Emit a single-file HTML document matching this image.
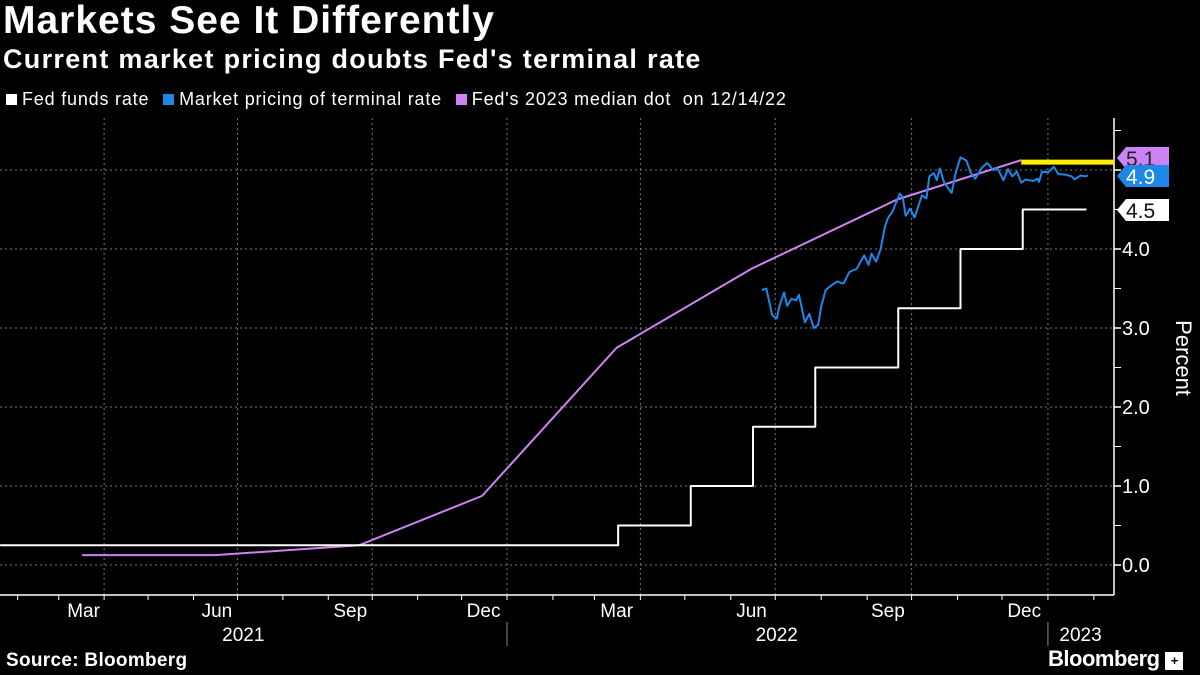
<!DOCTYPE html>
<html><head><meta charset="utf-8">
<style>
body{margin:0;background:#000;width:1200px;height:675px;overflow:hidden;font-family:"Liberation Sans",sans-serif;color:#fff;position:relative}
.t{position:absolute;white-space:nowrap}
</style></head><body>
<div class="t" style="left:3px;top:-1px;font-size:39px;font-weight:bold;letter-spacing:1px">Markets See It Differently</div>
<div class="t" style="left:3px;top:44px;font-size:27px;font-weight:bold;letter-spacing:1.3px">Current market pricing doubts Fed's terminal rate</div>
<div class="t" style="left:6px;top:89px;font-size:18px;letter-spacing:0.8px">
<span><span style="display:inline-block;width:11px;height:11px;background:#fff;margin-right:5px"></span>Fed funds rate</span>
<span style="margin-left:8px"><span style="display:inline-block;width:11px;height:11px;background:#1f87e8;margin-right:5px"></span>Market pricing of terminal rate</span>
<span style="margin-left:8px"><span style="display:inline-block;width:11px;height:11px;background:#cd83f5;margin-right:5px"></span>Fed's 2023 median dot &nbsp;on 12/14/22</span>
</div>
<svg id="chart" width="1200" height="675" style="position:absolute;left:0;top:0" font-family="Liberation Sans, sans-serif"></svg>
<div class="t" style="left:6px;top:650px;font-size:19px;font-weight:bold;letter-spacing:0.3px">Source: Bloomberg</div>
<div class="t" style="left:1048px;top:646px;font-size:22px;font-weight:bold;letter-spacing:-0.5px">Bloomberg <span style="display:inline-block;width:18px;height:18px;background:#fff;color:#000;font-size:13px;text-align:center;line-height:18px;vertical-align:1px">+</span></div>
<script>
const fedFundsDates=["2021-01-20","2022-03-17","2022-05-05","2022-06-16","2022-07-28","2022-09-22","2022-11-03","2022-12-15","2023-01-27"];
const fedFundsValues=[0.25,0.5,1.0,1.75,2.5,3.25,4.0,4.5,4.5];
const dotDates=["2021-03-17","2021-06-16","2021-09-22","2021-12-15","2022-03-16","2022-06-15","2022-09-21","2022-12-14"];
const dotValues=[0.125,0.125,0.25,0.875,2.75,3.75,4.625,5.125];
const marketDates=["2022-06-22","2022-06-25","2022-06-29","2022-07-02","2022-07-04","2022-07-07","2022-07-09","2022-07-12","2022-07-15","2022-07-17","2022-07-21","2022-07-24","2022-07-27","2022-07-30","2022-08-01","2022-08-04","2022-08-08","2022-08-12","2022-08-16","2022-08-20","2022-08-25","2022-08-30","2022-09-02","2022-09-04","2022-09-07","2022-09-10","2022-09-13","2022-09-15","2022-09-18","2022-09-23","2022-09-25","2022-09-27","2022-09-30","2022-10-03","2022-10-08","2022-10-11","2022-10-13","2022-10-16","2022-10-18","2022-10-20","2022-10-23","2022-10-28","2022-10-31","2022-11-03","2022-11-07","2022-11-10","2022-11-13","2022-11-17","2022-11-21","2022-11-25","2022-11-28","2022-12-02","2022-12-05","2022-12-08","2022-12-11","2022-12-14","2022-12-17","2022-12-22","2022-12-25","2022-12-26","2022-12-28","2023-01-01","2023-01-05","2023-01-08","2023-01-13","2023-01-17","2023-01-19","2023-01-23","2023-01-26","2023-01-28"];
const marketValues=[3.48,3.50,3.16,3.12,3.29,3.45,3.28,3.37,3.35,3.42,3.07,3.18,3.00,3.04,3.27,3.48,3.54,3.59,3.56,3.71,3.75,3.92,3.80,3.94,3.84,3.99,4.28,4.39,4.47,4.70,4.66,4.42,4.51,4.40,4.68,4.64,4.92,4.96,4.87,5.02,4.84,4.71,4.98,5.16,5.12,4.96,4.89,5.02,5.09,5.00,5.02,4.87,5.01,4.92,4.98,4.84,4.88,4.86,4.89,4.85,4.98,4.97,5.04,4.95,4.94,4.92,4.88,4.93,4.92,4.93];
const medianDotValue=5.1, lastMarket=4.9, lastFed=4.5;
const yTicks=[0,1,2,3,4,5];
const yTickLabels=["0.0","1.0","2.0","3.0","4.0",""];
const monthLabels=["Mar","Jun","Sep","Dec","Mar","Jun","Sep","Dec"];
const monthLabelDates=["2021-03-18","2021-06-17","2021-09-16","2021-12-16","2022-03-16","2022-06-15","2022-09-15","2022-12-16"];
const yearLabels=["2021","2022","2023"];
const yearLabelDates=["2021-07-05","2022-07-02","2023-01-23"];

const svg=document.getElementById('chart');
const NS='http://www.w3.org/2000/svg';
const base=Date.UTC(2022,0,1);
function day(s){const p=s.split('-');return (Date.UTC(+p[0],p[1]-1,+p[2])-base)/864e5;}
function X(s){const d=day(s);return d<0?507+d*1.465:507+d*1.482;}
function Y(v){return 565-v*79;}
const AX=1114;
function mk(tag,attrs,name,text){const e=document.createElementNS(NS,tag);for(const k in attrs)e.setAttribute(k,attrs[k]);


if(text!==undefined)e.textContent=text;svg.appendChild(e);return e;}
const clip=document.createElementNS(NS,'clipPath');clip.id='pc';const cr=document.createElementNS(NS,'rect');cr.setAttribute('x',0);cr.setAttribute('y',110);cr.setAttribute('width',AX);cr.setAttribute('height',490);clip.appendChild(cr);svg.appendChild(clip);
yTicks.forEach((v,i)=>{
 mk('line',{x1:0,x2:AX,y1:Y(v),y2:Y(v),stroke:'#777','stroke-dasharray':'2,3','stroke-width':1},'y-gridline');
 mk('line',{x1:AX,x2:AX+7,y1:Y(v),y2:Y(v),stroke:'#fff','stroke-width':1.5},'y-tick');
 mk('line',{x1:AX,x2:AX+7,y1:Y(v+0.5),y2:Y(v+0.5),stroke:'#fff','stroke-width':1},'y-minor-tick');
 if(yTickLabels[i])mk('text',{x:AX+8,y:Y(v)+7,fill:'#fff','font-size':20},'y-tick-label',yTickLabels[i]);
});
["2021-04-01","2021-07-01","2021-10-01","2022-01-01","2022-04-01","2022-07-01","2022-10-01","2023-01-01"].forEach(d=>{
 mk('line',{x1:X(d),x2:X(d),y1:118,y2:595,stroke:'#777','stroke-dasharray':'2,3','stroke-width':1},'x-gridline');
});
for(let y=2021;y<=2023;y++)for(let m=1;m<=12;m++){const d=y+'-'+String(m).padStart(2,'0')+'-01';const x=X(d);if(x<0||x>AX)continue;
 mk('line',{x1:x,x2:x,y1:595,y2:600,stroke:'#fff','stroke-width':1},'x-tick');}
mk('line',{x1:0,x2:AX,y1:595,y2:595,stroke:'#fff','stroke-width':1.5},'x-axis');
mk('line',{x1:AX,x2:AX,y1:118,y2:595,stroke:'#fff','stroke-width':1.5},'y-axis');
monthLabels.forEach((l,i)=>mk('text',{x:X(monthLabelDates[i]),y:617,fill:'#fff','font-size':19,'text-anchor':'middle'},'x-month-label',l));
yearLabels.forEach((l,i)=>mk('text',{x:X(yearLabelDates[i]),y:641,fill:'#fff','font-size':19,'text-anchor':'middle'},'x-year-label',l));
["2022-01-01","2023-01-01"].forEach(d=>mk('line',{x1:X(d),x2:X(d),y1:622,y2:646,stroke:'#888','stroke-width':1},'year-separator'));
mk('text',{x:0,y:0,fill:'#fff','font-size':22,'text-anchor':'middle',transform:'translate(1176,358) rotate(90)'},'y-axis-title','Percent');
const g=mk('g',{'clip-path':'url(#pc)'},'plot-area');
function line(dates,vals,step,color,w,name){let d='';dates.forEach((dt,i)=>{const x=X(dt),y=Y(vals[i]);if(i===0)d+='M'+x+','+y;else{if(step)d+='H'+x;d+='L'+x+','+y;}});
 const p=mk('path',{d:d,fill:'none',stroke:color,'stroke-width':w,'stroke-linejoin':'round'},name);g.appendChild(p);}
line(dotDates,dotValues,false,'#cd83f5',2,'fed-dot-line');
line(fedFundsDates,fedFundsValues,true,'#fff',2,'fed-funds-line');
line(marketDates,marketValues,false,'#1f87e8',2,'market-pricing-line');
mk('line',{x1:X(dotDates[dotDates.length-1]),x2:AX,y1:Y(medianDotValue),y2:Y(medianDotValue),stroke:'#ffee00','stroke-width':5},'median-dot-highlight');
function tag(v,ty,bg,fg,name){const y=ty;mk('path',{d:`M${AX+3},${y} L${AX+12},${y-11} H${AX+55} V${y+11} H${AX+12} Z`,fill:bg},name+'-box');
 mk('text',{x:AX+12,y:y+8,fill:fg,'font-size':21},name,v.toFixed(1));}
tag(medianDotValue,158,'#cd83f5','#222','label-median-dot');
tag(lastMarket,176,'#1f87e8','#fff','label-market');
tag(lastFed,210,'#fff','#111','label-fed-funds');
</script>
</body></html>
